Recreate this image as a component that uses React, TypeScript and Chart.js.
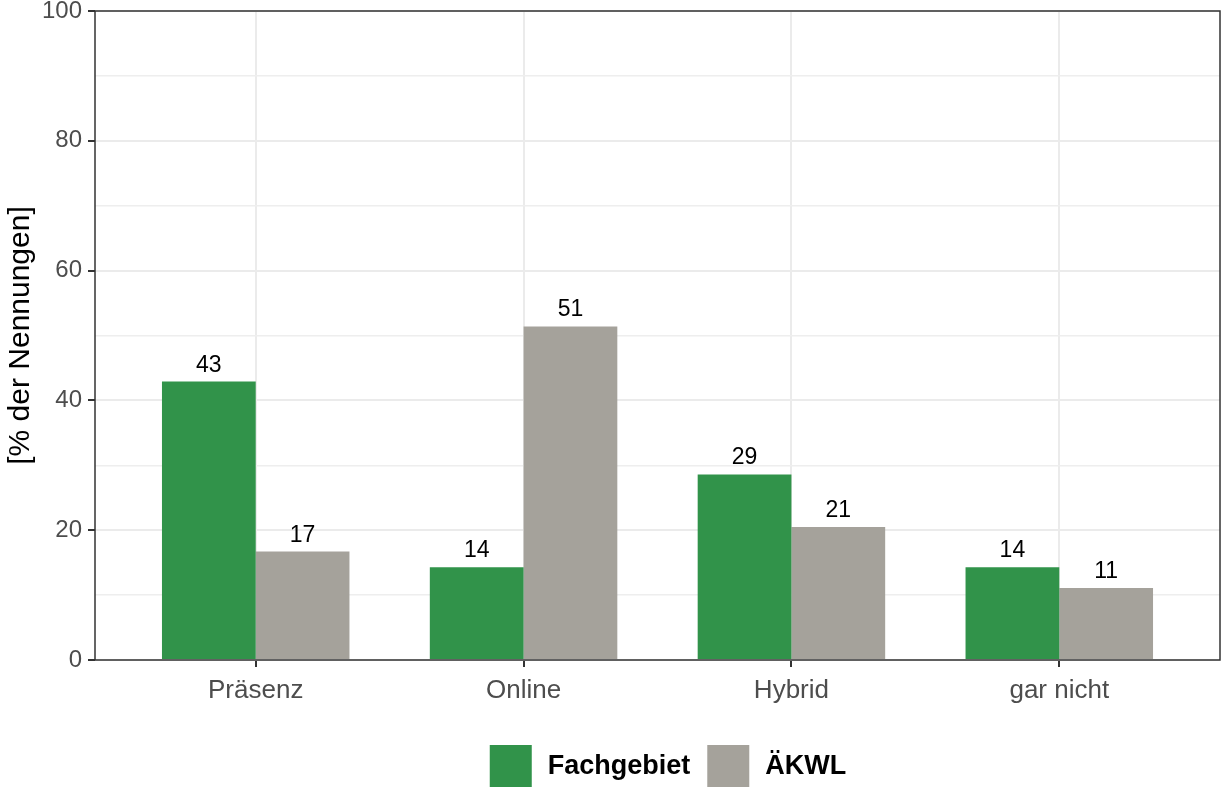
import React, { useEffect, useRef } from "react";
import { Chart, registerables } from "chart.js";

Chart.register(...registerables);

const categories = ["Präsenz", "Online", "Hybrid", "gar nicht"];
const seriesNames = ["Fachgebiet", "ÄKWL"];
const fachgebiet = [42.9, 14.3, 28.6, 14.3];
const aekwl = [16.7, 51.4, 20.5, 11.1];
const seriesColors = ["#31934A", "#A5A29B"];
const yMin = 0;
const yMax = 100;
const yStep = 10;
const yLabelStep = 20;

const FONT = "'Liberation Sans', Arial, Helvetica, sans-serif";

export default function App() {
  const ref = useRef<HTMLCanvasElement>(null);

  useEffect(() => {
    const canvas = ref.current;
    if (!canvas) return;

    const valueLabels = {
      id: "valueLabels",
      afterDatasetsDraw(chart: any) {
        const ctx = chart.ctx;
        ctx.save();
        ctx.font = `23px ${FONT}`;
        ctx.fillStyle = "#000000";
        ctx.textAlign = "center";
        ctx.textBaseline = "alphabetic";
        chart.data.datasets.forEach((ds: any, i: number) => {
          const meta = chart.getDatasetMeta(i);
          meta.data.forEach((el: any, j: number) => {
            const v = ds.data[j].y;
            ctx.fillText(String(Math.round(v)), el.x, el.y - 10);
          });
        });
        ctx.restore();
      },
    };

    const frame = {
      id: "frame",
      afterDraw(chart: any) {
        const { left, top, right, bottom } = chart.chartArea;
        const ctx = chart.ctx;
        ctx.save();
        ctx.strokeStyle = "#333333";
        ctx.lineWidth = 1.5;
        ctx.strokeRect(left, top, right - left, bottom - top);
        ctx.restore();
      },
    };

    const customLegend = {
      id: "customLegend",
      afterDraw(chart: any) {
        const ctx = chart.ctx;
        const area = chart.chartArea;
        const box = 42;
        const gapText = 16;
        const gapItem = 17;
        ctx.save();
        ctx.font = `bold 27px ${FONT}`;
        const items = chart.data.datasets.map((ds: any) => ({
          label: ds.label,
          color: ds.backgroundColor,
          w: ctx.measureText(ds.label).width,
        }));
        const total =
          items.reduce((s: number, it: any) => s + box + gapText + it.w, 0) +
          gapItem * (items.length - 1);
        let x = (area.left + area.right) / 2 + 10.5 - total / 2;
        const top = chart.height - 44;
        ctx.textBaseline = "middle";
        ctx.textAlign = "left";
        items.forEach((it: any) => {
          ctx.fillStyle = it.color;
          ctx.fillRect(x, top, box, box);
          ctx.fillStyle = "#000000";
          ctx.fillText(it.label, x + box + gapText, top + box / 2 + 1);
          x += box + gapText + it.w + gapItem;
        });
        ctx.restore();
      },
    };

    const seriesData = [fachgebiet, aekwl];
    const isMajor = (c: any) => c.tick && c.tick.value % yLabelStep === 0;

    const chart = new Chart(canvas, {
      type: "bar",
      data: {
        datasets: seriesNames.map((name, i) => ({
          label: name,
          data: seriesData[i].map((v, j) => ({ x: j + 1, y: v })),
          backgroundColor: seriesColors[i],
          borderWidth: 0,
          categoryPercentage: 0.7,
          barPercentage: 1.0,
        })),
      },
      options: {
        responsive: false,
        animation: false,
        devicePixelRatio: 1,
        layout: { padding: { top: 11, right: 3, bottom: 0, left: 0 } },
        plugins: {
          legend: { display: false },
          tooltip: { enabled: false },
        },
        scales: {
          x: {
            type: "linear",
            min: 0.4,
            max: 4.6,
            offset: false,
            afterBuildTicks(scale: any) {
              scale.ticks = categories.map((_, i) => ({ value: i + 1 }));
            },
            afterFit(scale: any) {
              scale.height = 129;
              scale.paddingLeft = 0;
              scale.paddingRight = 0;
            },
            grid: {
              offset: false,
              color: "#EBEBEB",
              lineWidth: 2,
              drawTicks: true,
              tickLength: 7,
              tickColor: "#333333",
              tickWidth: 2,
            },
            border: { display: false },
            ticks: {
              autoSkip: false,
              maxRotation: 0,
              padding: 8,
              color: "#4D4D4D",
              font: { family: FONT, size: 26 },
              callback: (v: any) => categories[Math.round(Number(v)) - 1] ?? "",
            },
          },
          y: {
            min: yMin,
            max: yMax,
            afterFit(scale: any) {
              scale.width = 95;
              scale.paddingTop = 0;
              scale.paddingBottom = 0;
            },
            grid: {
              color: (c: any) => (isMajor(c) ? "#EBEBEB" : "#EEEEEE"),
              lineWidth: (c: any) => (isMajor(c) ? 2 : 1.5),
              drawTicks: true,
              tickLength: 7,
              tickColor: (c: any) => (isMajor(c) ? "#333333" : "rgba(0,0,0,0)"),
              tickWidth: 2,
            },
            border: { display: false },
            ticks: {
              stepSize: yStep,
              autoSkip: false,
              padding: 6,
              color: "#4D4D4D",
              font: { family: FONT, size: 24 },
              callback: (v: any) => (Number(v) % yLabelStep === 0 ? String(v) : ""),
            },
            title: {
              display: true,
              text: "[% der Nennungen]",
              color: "#000000",
              font: { family: FONT, size: 30 },
              padding: { top: 3, bottom: 0 },
            },
          },
        },
      },
      plugins: [valueLabels, frame, customLegend],
    } as any);

    return () => chart.destroy();
  }, []);

  return (
    <div
      style={{
        position: "fixed",
        left: 0,
        top: 0,
        width: 1223,
        height: 789,
        background: "#ffffff",
      }}
    >
      <canvas ref={ref} width={1223} height={789} style={{ display: "block" }} />
    </div>
  );
}
